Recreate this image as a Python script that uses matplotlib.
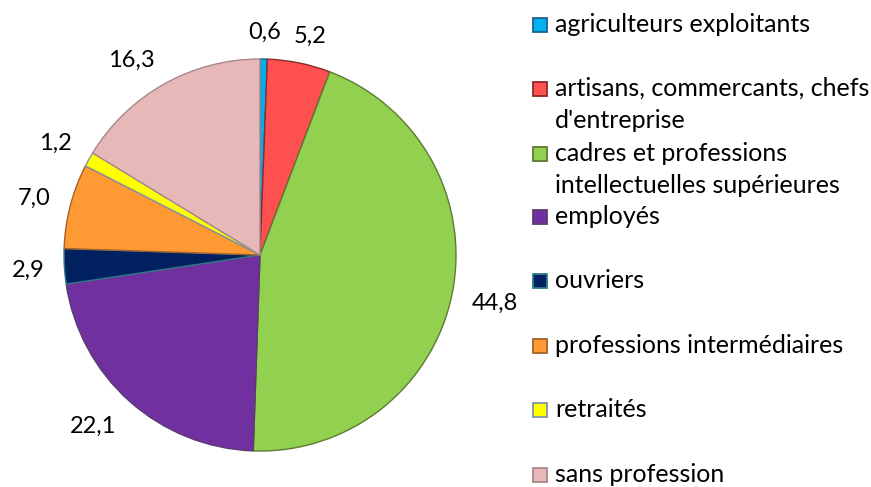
import numpy as np
import matplotlib
matplotlib.use("Agg")
import matplotlib.pyplot as plt
from matplotlib.patches import Rectangle

categories = ["agriculteurs exploitants",
              "artisans, commercants, chefs\nd'entreprise",
              "cadres et professions\nintellectuelles supérieures",
              "employés", "ouvriers", "professions intermédiaires",
              "retraités", "sans profession"]
values = [0.6, 5.2, 44.8, 22.1, 2.9, 7.0, 1.2, 16.3]
value_labels = ["0,6", "5,2", "44,8", "22,1", "2,9", "7,0", "1,2", "16,3"]
colors = ["#00B0F0", "#FF5050", "#92D050", "#7030A0", "#002060", "#FF9933", "#FFFF00", "#E6B9B8"]
edges = ["#1F5F8F", "#8B2A2A", "#5E7A33", "#5A3D6E", "#2E7C8A", "#A6622A", "#7F95B0", "#A88888"]

plt.rcParams['font.family'] = ['Lato', 'DejaVu Sans']
W, H = 871, 487
fig = plt.figure(figsize=(W/100, H/100), dpi=100)
cx, cy, R = 260, 255, 196
ax = fig.add_axes([(cx-R)/W, (H-cy-R)/H, 2*R/W, 2*R/H])
wedges, texts = ax.pie(values, labels=value_labels, colors=colors, startangle=90,
                       counterclock=False, radius=1, labeldistance=1.15,
                       wedgeprops=dict(linewidth=1.0),
                       textprops=dict(fontsize=17, color="black"))
for w, e in zip(wedges, edges):
    w.set_edgecolor(e)
ax.set_xlim(-1, 1); ax.set_ylim(-1, 1)
ax.set_aspect("equal")
ax.axis("off")

# place value labels just outside the rim (Excel "outside end")
fig.canvas.draw()
rend = fig.canvas.get_renderer()
gap = 20
for w, t in zip(wedges, texts):
    ang = np.deg2rad((w.theta1 + w.theta2) / 2)
    ux, uy = np.cos(ang), np.sin(ang)
    bb = t.get_window_extent(rend)
    tw = bb.width
    th = 17 * 0.72 * 100 / 72
    fx = np.clip(2 * ux, -1, 1)
    fy = np.clip(2 * uy, -1, 1)
    px = (R + gap) * ux + fx * tw / 2
    py = (R + gap) * uy + fy * th / 2
    t.set_ha("center"); t.set_va("baseline")
    t.set_position((px / R, (py - th / 2) / R))

ys = [25, 89, 154, 217, 281, 346, 410, 475]
for lab, c, e, y in zip(categories, colors, edges, ys):
    fig.patches.append(Rectangle((533/W, (H-y-7)/H), 14/W, 14/H, transform=fig.transFigure,
                                 facecolor=c, edgecolor=e, linewidth=1.3))
    for k, line in enumerate(lab.split("\n")):
        fig.text(555/W, (H-(y+7+32*k))/H, line, fontsize=18, va="baseline", ha="left")

fig.savefig("out.png", dpi=100, facecolor="white")
